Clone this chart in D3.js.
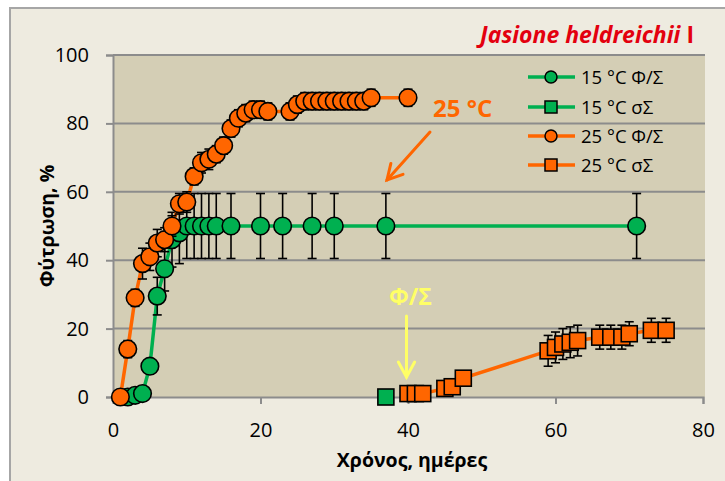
<!DOCTYPE html>
<html><head><meta charset="utf-8">
<script src="https://cdn.jsdelivr.net/npm/d3@7"></script>
<style>body{margin:0;background:#fff}svg{display:block}</style>
</head><body>
<svg id="c" width="725" height="481"></svg>
<script>
// ---- data ----
const xTicks = [0, 20, 40, 60, 80];
const yTicks = [0, 20, 40, 60, 80, 100];

const g15phDays = [2, 3, 4, 5, 6, 7, 8, 9, 10, 11, 12, 13, 14, 16, 20, 23, 27, 30, 37, 71];
const g15phVals = [0, 0.5, 1, 9, 29.5, 37.5, 46, 48, 50, 50, 50, 50, 50, 50, 50, 50, 50, 50, 50, 50];
const g15phErr  = [0, 0.5, 1, 2, 5.5, 6.5, 8, 9, 9.5, 9.5, 9.5, 9.5, 9.5, 9.5, 9.5, 9.5, 9.5, 9.5, 9.5, 9.5];

const g15sDays = [37];
const g15sVals = [0];
const g15sErr  = [0];

const o25phDays = [1, 2, 3, 4, 5, 6, 7, 8, 9, 10, 11, 12, 13, 14, 15, 16, 17, 18, 19, 20, 21, 24, 25, 26, 27, 28, 29, 30, 31, 32, 33, 34, 35, 40];
const o25phVals = [0, 14, 29, 39, 41, 45, 46, 50, 56.5, 57, 64.5, 68.5, 69.5, 71, 73.5, 78.5, 81.5, 83, 84, 84, 83.5, 83.5, 85.5, 86.5, 86.5, 86.5, 86.5, 86.5, 86.5, 86.5, 86.5, 86.5, 87.5, 87.5];
const o25phErr  = [0, 2.5, 2.5, 4.5, 4, 4, 3.5, 3, 3, 3, 2.5, 3, 3, 2.5, 2.5, 2.5, 2.5, 2.5, 2.5, 2.5, 2.5, 2.5, 2.5, 2.5, 2.5, 2.5, 2.5, 2.5, 2.5, 2.5, 2.5, 2.5, 2.5, 2.5];

const o25sDays = [40, 41, 42, 45, 46, 47.5, 59, 60, 61, 62, 63, 66, 67.5, 69, 70, 73, 75];
const o25sVals = [1, 1, 1, 2.5, 3, 5.5, 13.5, 14.5, 15.5, 16, 16.5, 17.5, 17.5, 17.5, 18.5, 19.5, 19.5];
const o25sErr  = [0, 0, 0, 0, 0, 0, 4.5, 4.5, 4.5, 4.5, 4.5, 3.5, 3.5, 3.5, 3.5, 3.5, 3.5];

const seriesNames = ["15 °C Φ/Σ", "15 °C σΣ", "25 °C Φ/Σ", "25 °C σΣ"];

// ---- layout ----
const GREEN = "#00B050", ORANGE = "#FF6600";
const FONT = "'Open Sans', 'Noto Sans', sans-serif";
const svg = d3.select("#c");
const x = d3.scaleLinear().domain([0, 80]).range([113, 703]);
const y = d3.scaleLinear().domain([0, 100]).range([397, 55]);

// outer background + border
svg.append("rect").attr("x", 10).attr("y", 8).attr("width", 730).attr("height", 490)
  .attr("fill", "#EEEBE0").attr("stroke", "#A6A6A6").attr("stroke-width", 2);

// plot area
svg.append("rect").attr("x", x(0)).attr("y", y(100)).attr("width", x(80) - x(0) + 2).attr("height", y(0) - y(100))
  .attr("fill", "#D4CEB5");

// gridlines
svg.append("g").selectAll("line").data(yTicks.filter(d => d > 0)).join("line")
  .attr("x1", x(0)).attr("x2", x(80) + 2).attr("y1", d => y(d)).attr("y2", d => y(d))
  .attr("stroke", "#8C8C8C").attr("stroke-width", 2);

// axes
const yAxis = d3.axisLeft(y).tickValues(yTicks).tickSize(7).tickPadding(17);
const gy = svg.append("g").attr("transform", `translate(${x(0)},0)`).call(yAxis);
const xAxis = d3.axisBottom(x).tickValues(xTicks).tickSize(7).tickPadding(19);
const gx = svg.append("g").attr("transform", `translate(0,${y(0)})`).call(xAxis);
[gx, gy].forEach(g => {
  g.select(".domain").attr("stroke", "#8C8C8C").attr("stroke-width", 2);
  g.selectAll(".tick line").attr("stroke", "#8C8C8C").attr("stroke-width", 2);
  g.selectAll(".tick text").attr("fill", "#000").style("font-family", FONT).style("font-size", "20px");
});
gx.selectAll(".tick").filter(d => d === 0).select("line").remove();

// axis titles
svg.append("text").attr("x", 412).attr("y", 467).attr("text-anchor", "middle")
  .style("font-family", FONT).style("font-size", "19.5px").style("font-weight", "bold").text("Χρόνος, ημέρες");
svg.append("text").attr("transform", "translate(54,226) rotate(-90)").attr("text-anchor", "middle")
  .style("font-family", FONT).style("font-size", "19.5px").style("font-weight", "bold").text("Φύτρωση, %");

// title
const t = svg.append("text").attr("x", 694).attr("y", 43).attr("text-anchor", "end")
  .style("font-family", FONT).style("font-size", "23px").style("font-weight", "bold").attr("fill", "#E3000F");
t.append("tspan").style("font-style", "italic").text("Jasione heldreichii");
t.append("tspan").text(" I");

// series drawing
function drawSeries(days, vals, errs, color, shape) {
  const pts = days.map((d, i) => ({ d, v: vals[i], e: errs[i] }));
  const g = svg.append("g");
  g.append("path").datum(pts)
    .attr("d", d3.line().x(p => x(p.d)).y(p => y(p.v)))
    .attr("fill", "none").attr("stroke", color).attr("stroke-width", 3.5);
  const eb = g.append("g").attr("stroke", "#000").attr("stroke-width", 1.6);
  pts.filter(p => p.e > 0).forEach(p => {
    eb.append("line").attr("x1", x(p.d)).attr("x2", x(p.d)).attr("y1", y(p.v - p.e)).attr("y2", y(p.v + p.e));
    [p.v - p.e, p.v + p.e].forEach(v => eb.append("line").attr("x1", x(p.d) - 4.5).attr("x2", x(p.d) + 4.5).attr("y1", y(v)).attr("y2", y(v)));
  });
  if (shape === "circle") {
    g.selectAll("circle").data(pts).join("circle")
      .attr("cx", p => x(p.d)).attr("cy", p => y(p.v)).attr("r", 8.8)
      .attr("fill", color).attr("stroke", "#000").attr("stroke-width", 1.6);
  } else {
    g.selectAll("rect").data(pts).join("rect")
      .attr("x", p => x(p.d) - 8).attr("y", p => y(p.v) - 8).attr("width", 16).attr("height", 16)
      .attr("fill", color).attr("stroke", "#000").attr("stroke-width", 1.6);
  }
}
drawSeries(g15phDays, g15phVals, g15phErr, GREEN, "circle");
drawSeries(g15sDays, g15sVals, g15sErr, GREEN, "square");
drawSeries(o25phDays, o25phVals, o25phErr, ORANGE, "circle");
drawSeries(o25sDays, o25sVals, o25sErr, ORANGE, "square");

// legend
const legColors = [GREEN, GREEN, ORANGE, ORANGE];
const legShapes = ["circle", "square", "circle", "square"];
const legY = [77, 107, 136, 165];
const lg = svg.append("g");
seriesNames.forEach((n, i) => {
  lg.append("line").attr("x1", 528).attr("x2", 575).attr("y1", legY[i]).attr("y2", legY[i])
    .attr("stroke", legColors[i]).attr("stroke-width", 3.5);
  if (legShapes[i] === "circle") {
    lg.append("circle").attr("cx", 551).attr("cy", legY[i]).attr("r", 6)
      .attr("fill", legColors[i]).attr("stroke", "#000").attr("stroke-width", 1.5);
  } else {
    lg.append("rect").attr("x", 545).attr("y", legY[i] - 6).attr("width", 12).attr("height", 12)
      .attr("fill", legColors[i]).attr("stroke", "#000").attr("stroke-width", 1.5);
  }
  lg.append("text").attr("x", 581).attr("y", legY[i] + 7)
    .style("font-family", FONT).style("font-size", "18.5px").attr("fill", "#000").text(n);
});

// annotations
svg.append("text").attr("x", 433).attr("y", 117)
  .style("font-family", FONT).style("font-size", "24px").style("font-weight", "bold").attr("fill", ORANGE).text("25 °C");
function arrow(x1, y1, x2, y2, color) {
  const a = Math.atan2(y2 - y1, x2 - x1), L = 17, w = 0.5;
  const g = svg.append("g").attr("stroke", color).attr("stroke-width", 3).attr("fill", "none").attr("stroke-linecap", "round");
  g.append("line").attr("x1", x1).attr("y1", y1).attr("x2", x2).attr("y2", y2);
  g.append("polyline").attr("points", [
    [x2 - L * Math.cos(a - w), y2 - L * Math.sin(a - w)], [x2, y2], [x2 - L * Math.cos(a + w), y2 - L * Math.sin(a + w)]
  ].map(p => p.join(",")).join(" "));
}
arrow(430, 132, 387, 180, ORANGE);
svg.append("text").attr("x", 389).attr("y", 305)
  .style("font-family", FONT).style("font-size", "23px").style("font-weight", "bold").attr("fill", "#FFFF66").text("Φ/Σ");
arrow(406.5, 316, 406.5, 377, "#FFFF66");
</script>
</body></html>
